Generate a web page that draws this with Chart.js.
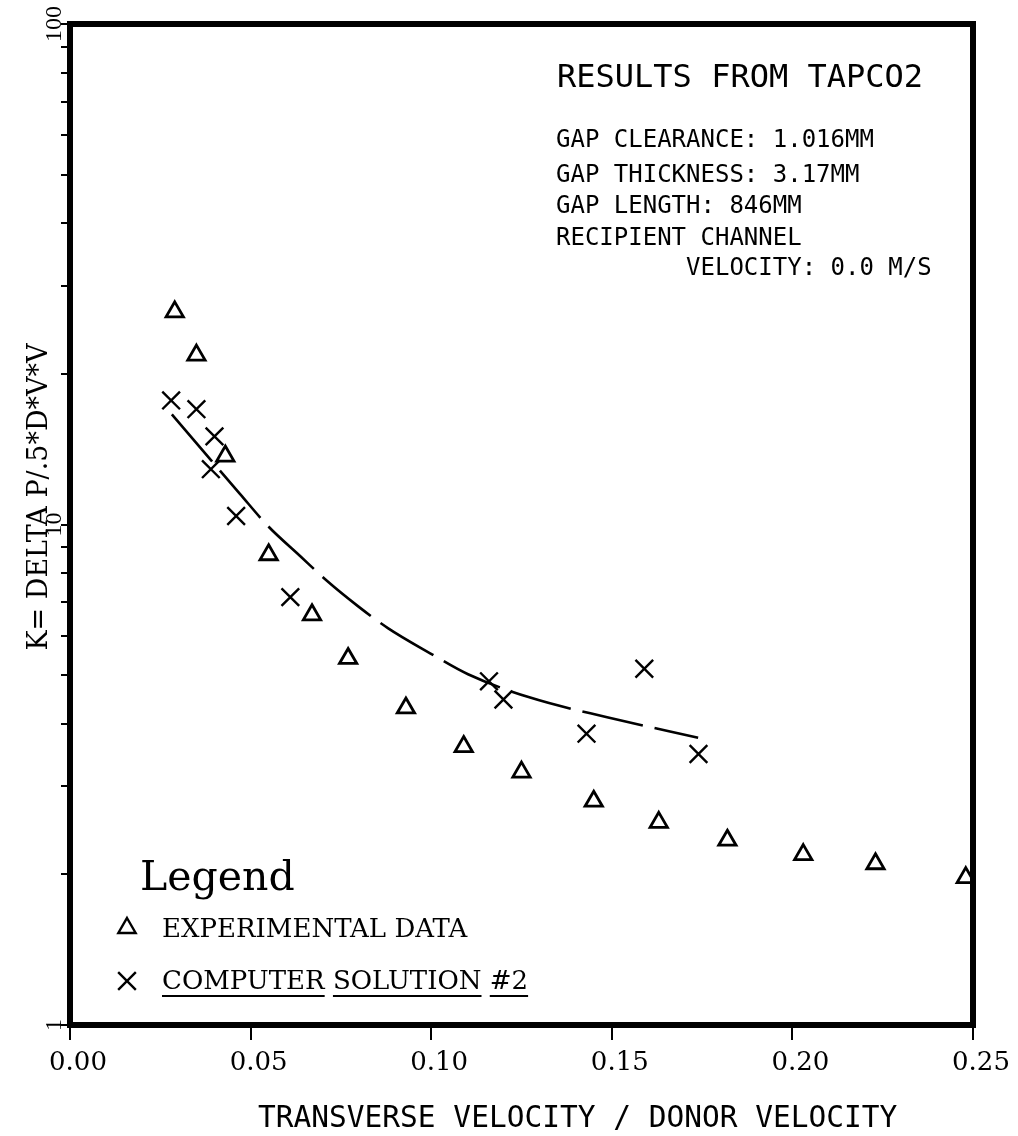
<!DOCTYPE html>
<html>
<head>
<meta charset="utf-8">
<script src="https://cdn.jsdelivr.net/npm/chart.js"></script>
<style>
  html, body { margin: 0; padding: 0; background: #fff; }
  canvas { display: block; }
</style>
</head>
<body>
<canvas id="kChart" width="1018" height="1136"></canvas>
<script>
// values (x = transverse / donor velocity, K on log axis)
const expX = [0.029, 0.035, 0.043, 0.055, 0.067, 0.077, 0.093, 0.109, 0.125, 0.145, 0.163, 0.182, 0.203, 0.223, 0.248];
const expK = [26.6, 21.8, 13.7, 8.7, 6.6, 5.4, 4.3, 3.6, 3.2, 2.8, 2.54, 2.34, 2.19, 2.10, 1.97];

const solX = [0.028, 0.035, 0.040, 0.039, 0.046, 0.061, 0.116, 0.120, 0.143, 0.159, 0.174];
const solK = [17.7, 17.0, 15.0, 12.9, 10.4, 7.16, 4.86, 4.47, 3.82, 5.15, 3.48];

// dashed solution curve
const fitX = [0.0282, 0.0392, 0.0471, 0.0548, 0.0637, 0.0712, 0.0797, 0.0880, 0.0997, 0.1102, 0.1274, 0.1487, 0.1739];
const fitK = [16.6, 13.4, 11.5, 9.93, 8.65, 7.71, 6.87, 6.21, 5.53, 5.02, 4.51, 4.12, 3.75];

const yTickValues = [1, 2, 3, 4, 5, 6, 7, 8, 9, 10, 20, 30, 40, 50, 60, 70, 80, 90, 100];
const yTickLabels = ['1', '10', '100'];

const titleText = 'RESULTS FROM TAPCO2';
const infoLines = [
  'GAP CLEARANCE: 1.016MM',
  'GAP THICKNESS: 3.17MM',
  'GAP LENGTH: 846MM',
  'RECIPIENT CHANNEL',
  '         VELOCITY: 0.0 M/S'
];
const xTitle = 'TRANSVERSE VELOCITY / DONOR VELOCITY';
const yTitle = 'K= DELTA P/.5*D*V*V';

const pts = (xs, ys) => xs.map((x, i) => ({ x: x, y: ys[i] }));

const plotterFont = '"DejaVu Sans Mono", monospace';
const serifFont = '"DejaVu Serif", serif';

// frame, rotated labels, text block and legend
const paperText = {
  id: 'paperText',
  afterDraw(chart) {
    const ctx = chart.ctx;
    const area = chart.chartArea;
    const ys = chart.scales.y;
    ctx.save();
    ctx.fillStyle = '#000';
    ctx.strokeStyle = '#000';

    ctx.lineWidth = 6;
    ctx.strokeRect(area.left, area.top, area.right - area.left, area.bottom - area.top);

    // y tick labels, rotated
    ctx.font = '24px "Liberation Serif", serif';
    ctx.textAlign = 'center';
    ctx.textBaseline = 'middle';
    yTickLabels.forEach(t => {
      ctx.save();
      ctx.translate(55, ys.getPixelForValue(Number(t)));
      ctx.rotate(-Math.PI / 2);
      ctx.fillText(t, 0, 0);
      ctx.restore();
    });

    // y title
    ctx.save();
    ctx.font = '27px ' + serifFont;
    ctx.translate(40, 497);
    ctx.rotate(-Math.PI / 2);
    ctx.fillText(yTitle, 0, 0);
    ctx.restore();

    // text block
    ctx.textAlign = 'left';
    ctx.textBaseline = 'alphabetic';
    ctx.font = '32px ' + plotterFont;
    ctx.fillText(titleText, 557, 87);
    ctx.font = '24px ' + plotterFont;
    const lineY = [147, 182, 213, 245, 275];
    infoLines.forEach((l, i) => ctx.fillText(l, 556, lineY[i]));

    // x title
    ctx.font = '29.5px ' + plotterFont;
    ctx.fillText(xTitle, 258, 1127);

    // legend
    ctx.font = '41px ' + serifFont;
    ctx.fillText('Legend', 140, 890);
    const rowY = [928, 981];
    const baseY = [937, 989];
    ctx.font = '26px ' + serifFont;
    [0, 1].forEach((di, r) => {
      const ds = chart.data.datasets[di];
      ctx.save();
      ctx.fillStyle = 'rgba(0,0,0,0)';
      ctx.strokeStyle = '#000';
      ctx.lineWidth = 2.4;
      Chart.helpers.drawPoint(ctx, {
        pointStyle: ds.pointStyle, rotation: 0,
        radius: ds.pointRadius, borderWidth: 2.4
      }, 127, rowY[r]);
      ctx.restore();
      ctx.fillText(ds.label, 162, baseY[r]);
      if (ds.underline) {
        let x = 162;
        ctx.lineWidth = 2;
        ds.label.split(' ').forEach(w => {
          const wd = ctx.measureText(w).width;
          ctx.beginPath();
          ctx.moveTo(x, 996);
          ctx.lineTo(x + wd, 996);
          ctx.stroke();
          x += wd + ctx.measureText(' ').width;
        });
      }
    });
    ctx.restore();
  }
};

new Chart(document.getElementById('kChart'), {
  type: 'scatter',
  data: {
    datasets: [
      {
        label: 'EXPERIMENTAL DATA',
        data: pts(expX, expK),
        pointStyle: 'triangle',
        pointRadius: 10,
        pointBorderWidth: 2.8,
        borderColor: '#000',
        backgroundColor: 'rgba(0,0,0,0)'
      },
      {
        label: 'COMPUTER SOLUTION #2',
        underline: true,
        data: pts(solX, solK),
        pointStyle: 'crossRot',
        pointRadius: 12.5,
        pointBorderWidth: 2.4,
        borderColor: '#000',
        backgroundColor: 'rgba(0,0,0,0)'
      },
      {
        label: 'solution curve',
        data: pts(fitX, fitK),
        showLine: true,
        pointRadius: 0,
        borderColor: '#000',
        borderWidth: 2.6,
        borderDash: [62, 12],
        cubicInterpolationMode: 'monotone',
        fill: false
      }
    ]
  },
  options: {
    responsive: false,
    animation: false,
    devicePixelRatio: 1,
    events: [],
    layout: { padding: { top: 24, right: 45, left: 0, bottom: 0 } },
    plugins: {
      legend: { display: false },
      tooltip: { enabled: false }
    },
    scales: {
      x: {
        type: 'linear',
        min: 0,
        max: 0.25,
        afterFit: s => { s.height = 111; },
        border: { display: false },
        grid: { drawOnChartArea: false, drawTicks: true, tickLength: 15, color: '#000', lineWidth: 2 },
        ticks: {
          stepSize: 0.05,
          color: '#000',
          padding: 8,
          labelOffset: 8,
          maxRotation: 0,
          font: { family: 'DejaVu Serif', size: 26 },
          callback: v => v.toFixed(2)
        }
      },
      y: {
        type: 'logarithmic',
        min: 1,
        max: 100,
        afterFit: s => { s.width = 70; },
        afterBuildTicks: s => { s.ticks = yTickValues.map(v => ({ value: v })); },
        border: { display: false },
        grid: { drawOnChartArea: false, drawTicks: true, tickLength: 9, color: '#000', lineWidth: 2 },
        ticks: { display: false }
      }
    }
  },
  plugins: [paperText]
});
</script>
</body>
</html>
